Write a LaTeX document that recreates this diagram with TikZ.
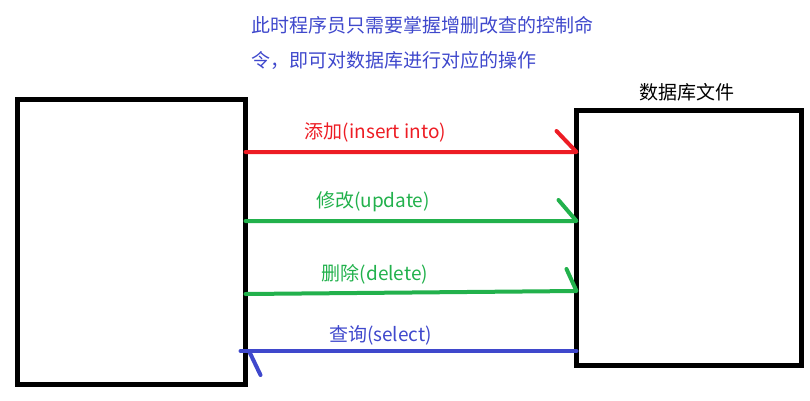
\documentclass[tikz,border=0pt]{standalone}
\usepackage{fontspec}
\setmainfont{Noto Sans CJK SC}
\usetikzlibrary{calc}
\definecolor{paintred}{rgb}{0.929, 0.110, 0.141}
\definecolor{paintgreen}{rgb}{0.133, 0.694, 0.298}
\definecolor{paintblue}{rgb}{0.247, 0.282, 0.800}
\tikzset{box/.style={draw, line width=5pt, inner sep=0pt, outer sep=0pt}}
\tikzset{txt/.style={inner sep=0pt, font=\fontsize{19}{21}\selectfont}}
\tikzset{link/.style={line width=4pt, line join=round, line cap=round}}

\begin{document}
\begin{tikzpicture}[x=1pt, y=-1pt]
            \useasboundingbox (0, 0) rectangle (810, 400);

            \node [txt, anchor=west, text=paintblue] (H1) at (251, 25) { 此时程序员只需要掌握增删改查的控制命 };
            \node [txt, anchor=west, text=paintblue] (H2) at (251, 60) { 令，即可对数据库进行对应的操作 };

            \node [box, minimum width=228pt, minimum height=285pt] (Pg) at (131.5, 242) {};
            \node [box, minimum width=225pt, minimum height=255pt] (Db) at (689, 238) {};
            \node [txt] (Dn) at (686.5, 92) { 数据库文件 };

            \node [txt, text=paintred] (Ci) at (375.5, 132) { 添加(insert into) };
            \node [txt, text=paintgreen] (Cu) at (373, 202) { 修改(update) };
            \node [txt, text=paintgreen] (Cd) at (375, 274) { 删除(delete) };
            \node [txt, text=paintblue] (Cs) at (380.5, 335) { 查询(select) };

            \draw [link, paintred] (Pg.east |- 0, 152) -- (Db.west |- 0, 152) -- ++(-20, -21);
            \draw [link, paintgreen] (Pg.east |- 0, 221) -- (Db.west |- 0, 221) -- ++(-18, -21);
            \draw [link, paintgreen] (Pg.east |- 0, 294) -- (Db.west |- 0, 291) -- ++(-10, -22);
            \draw [link, paintblue] (Db.west |- 0, 351) -- ($(Pg.east |- 0, 351) + (-5, 0)$);
            \draw [link, paintblue] ($(Pg.east |- 0, 351) + (4, 1)$) -- ++(11, 23);
        \end{tikzpicture}
\end{document}
